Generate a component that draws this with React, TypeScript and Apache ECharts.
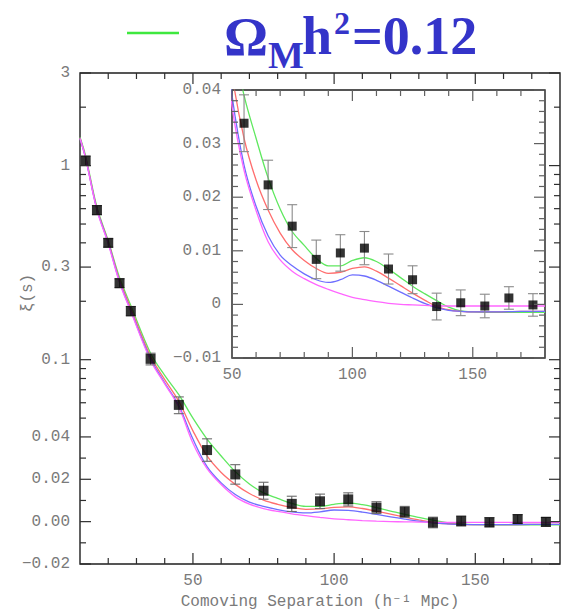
import { useEffect, useRef } from 'react';
import * as echarts from 'echarts';

// ---- measured data (SDSS LRG redshift-space correlation function) ----
const sepBins = [12, 16, 20, 24, 28, 35, 45, 55, 65, 75, 85, 95, 105, 115, 125, 135, 145, 155, 165, 175];
const xiValues = [1.06, 0.59, 0.40, 0.248, 0.178, 0.101, 0.0585, 0.0338, 0.0223, 0.0146, 0.0084, 0.0096, 0.0105, 0.0066, 0.0046, -0.0004, 0.0003, -0.0003, 0.0012, -0.0001];
const xiErrors = [0.06, 0.032, 0.02, 0.013, 0.01, 0.007, 0.0058, 0.0053, 0.0046, 0.004, 0.0036, 0.0034, 0.0031, 0.0028, 0.0026, 0.0025, 0.0024, 0.0022, 0.0021, 0.0021];

// ---- model curves ----
const modelSep = [10, 12, 16, 20, 24, 28, 35, 40, 45, 50, 55, 60, 65, 70, 75, 80, 85, 90, 95, 100, 105, 110, 115, 120, 125, 130, 135, 140, 145, 150, 160, 170, 180];
const xiModel012 = [1.40, 1.12, 0.61, 0.41, 0.265, 0.19, 0.108, 0.083, 0.066, 0.050, 0.039, 0.031, 0.0236, 0.0178, 0.0136, 0.0110, 0.0086, 0.0072, 0.0072, 0.0082, 0.0087, 0.0080, 0.0066, 0.0050, 0.0034, 0.0020, 0.0007, -0.0005, -0.0012, -0.0014, -0.0015, -0.0015, -0.0015];
const xiModel013 = [1.39, 1.10, 0.60, 0.405, 0.258, 0.184, 0.104, 0.079, 0.061, 0.043, 0.031, 0.0232, 0.0176, 0.0133, 0.0102, 0.0082, 0.0067, 0.0058, 0.0060, 0.0067, 0.0070, 0.0062, 0.0049, 0.0035, 0.0021, 0.0008, -0.0004, -0.0010, -0.0013, -0.0014, -0.0014, -0.0013, -0.0013];
const xiModel014 = [1.38, 1.09, 0.595, 0.40, 0.253, 0.179, 0.101, 0.076, 0.058, 0.039, 0.026, 0.0183, 0.0128, 0.0092, 0.0072, 0.0057, 0.0046, 0.0041, 0.0046, 0.0055, 0.0053, 0.0045, 0.0034, 0.0023, 0.0012, 0.0002, -0.0006, -0.0011, -0.0013, -0.0014, -0.0014, -0.0013, -0.0013];
const xiModelNoBaryon = [1.38, 1.09, 0.59, 0.395, 0.25, 0.177, 0.099, 0.075, 0.057, 0.037, 0.025, 0.0175, 0.0117, 0.0083, 0.0062, 0.0048, 0.0037, 0.0028, 0.0020, 0.0013, 0.0009, 0.0005, 0.0002, 0.0000, -0.0001, -0.0002, -0.0003, -0.0003, -0.0003, -0.0003, -0.0003, -0.0003, -0.0003];

// ---- axis ticks / labels ----
const mainXMajor = [50, 100, 150];
const mainXMinor = [20, 30, 40, 60, 70, 80, 90, 110, 120, 130, 140, 160, 170];
const mainYTickValues = [3, 1, 0.3, 0.1, 0.04, 0.02, 0, -0.02];
const mainYTickLabels = ['3', '1', '0.3', '0.1', '0.04', '0.02', '0.00', '\u22120.02'];
const mainYMinor = [2, 0.9, 0.8, 0.7, 0.6, 0.5, 0.4, 0.2, 0.09, 0.08, 0.07, 0.06, 0.05, 0.03, 0.01, -0.01];
const insetXMajor = [50, 100, 150];
const insetXMinor = [60, 70, 80, 90, 110, 120, 130, 140, 160, 170];
const insetYTickValues = [-0.01, 0, 0.01, 0.02, 0.03, 0.04];
const insetYTickLabels = ['\u22120.01', '0', '0.01', '0.02', '0.03', '0.04'];
const insetYMinor = [-0.008, -0.006, -0.004, -0.002, 0.002, 0.004, 0.006, 0.008, 0.012, 0.014, 0.016, 0.018, 0.022, 0.024, 0.026, 0.028, 0.032, 0.034, 0.036, 0.038];

// main panel y scale: linear below 0.04, logarithmic above
const Y_FLOOR = -0.02;
const Y_BREAK = 0.04;
const LIN_K = 2117;
const LOG_K = 194;
const T = (v: number) =>
  v <= Y_BREAK ? (v - Y_FLOOR) * LIN_K : (Y_BREAK - Y_FLOOR) * LIN_K + LOG_K * Math.log10(v / Y_BREAK);
const Y_TOP = 3;

const LABEL_FONT = '"Liberation Mono", "DejaVu Sans Mono", monospace';
const LABEL_COLOR = '#7a7a7a';
const FRAME = '#1e1e1e';

const MAIN = { left: 80, top: 73, width: 480, height: 491 };
const INSET = { left: 232, top: 90, width: 313, height: 268 };

const MAIN_XR = [10, 180];
const MAIN_YR = [0, T(Y_TOP)];
const INSET_XR = [50, 180];
const INSET_YR = [-0.01, 0.04];

const curves = [
  { data: xiModel012, color: '#5fe85f' },
  { data: xiModel013, color: '#ff6e6e' },
  { data: xiModel014, color: '#6e6eff' },
  { data: xiModelNoBaryon, color: '#ff66ff' },
];

function lookup(vals: number[], labels: string[], tf: (v: number) => number) {
  return (v: number) => {
    const i = vals.findIndex((t) => Math.abs(tf(t) - v) < 1e-7);
    return i >= 0 ? labels[i] : '';
  };
}

function valueAxis(o: any) {
  const a: any = {
    type: 'value',
    gridIndex: o.grid,
    position: o.position,
    min: o.min,
    max: o.max,
    z: o.z,
    splitLine: { show: false },
    axisLine: { show: false },
    axisTick: { show: false },
    axisLabel: {
      show: true,
      customValues: o.labels,
      formatter: o.formatter,
      margin: o.margin,
      fontFamily: LABEL_FONT,
      fontSize: 16,
      color: LABEL_COLOR,
    },
  };
  if (o.name) Object.assign(a, o.name);
  return a;
}

function errorBars(color: string, half: number) {
  return (params: any, api: any) => {
    const x = api.value(0);
    const lo = api.coord([x, api.value(1)]);
    const hi = api.coord([x, api.value(2)]);
    return {
      type: 'group',
      children: [
        { type: 'line', shape: { x1: lo[0], y1: lo[1], x2: hi[0], y2: hi[1] }, style: { stroke: color, lineWidth: 1.1 } },
        { type: 'line', shape: { x1: lo[0] - half, y1: lo[1], x2: lo[0] + half, y2: lo[1] }, style: { stroke: color, lineWidth: 1.1 } },
        { type: 'line', shape: { x1: hi[0] - half, y1: hi[1], x2: hi[0] + half, y2: hi[1] }, style: { stroke: color, lineWidth: 1.1 } },
      ],
    };
  };
}

function baseGraphic() {
  const titleColor = '#3434c9';
  const serif = '"Liberation Serif", "Times New Roman", serif';
  return [
    { type: 'line', z: 20, shape: { x1: 127, y1: 33, x2: 179, y2: 33 }, style: { stroke: '#3ee83e', lineWidth: 2.5 } },
    { type: 'text', z: 20, x: 224, y: 36, style: { text: '\u03A9', font: `bold 55px ${serif}`, fill: titleColor, textAlign: 'left', textVerticalAlign: 'middle' } },
    { type: 'text', z: 20, x: 268, y: 55, style: { text: 'M', font: `bold 38px ${serif}`, fill: titleColor, textAlign: 'left', textVerticalAlign: 'middle' } },
    { type: 'text', z: 20, x: 302, y: 36, style: { text: 'h', font: `bold 54px ${serif}`, fill: titleColor, textAlign: 'left', textVerticalAlign: 'middle' } },
    { type: 'text', z: 20, x: 334, y: 23, style: { text: '2', font: `bold 32px ${serif}`, fill: titleColor, textAlign: 'left', textVerticalAlign: 'middle' } },
    { type: 'text', z: 20, x: 352, y: 36, style: { text: '=0.12', font: `bold 54px ${serif}`, fill: titleColor, textAlign: 'left', textVerticalAlign: 'middle' } },
    { type: 'text', z: 20, x: 28, y: 293, rotation: Math.PI / 2,
      style: { text: '\u03BE(s)', font: `16px ${LABEL_FONT}`, fill: LABEL_COLOR, textAlign: 'center', textVerticalAlign: 'middle' } },
  ];
}

function buildOption() {
  const mainFmt = lookup(mainYTickValues, mainYTickLabels, T);
  const insetFmt = lookup(insetYTickValues, insetYTickLabels, (v) => v);
  const mainYMajorT = mainYTickValues.map(T);

  const xAxes = [
    valueAxis({ grid: 0, position: 'bottom', min: MAIN_XR[0], max: MAIN_XR[1], z: 1, labels: mainXMajor,
      formatter: (v: number) => String(v), margin: 9,
      name: { name: 'Comoving Separation (h\u207B\u00B9 Mpc)', nameLocation: 'middle', nameGap: 30,
        nameTextStyle: { fontFamily: LABEL_FONT, fontSize: 16, color: LABEL_COLOR } } }),
    valueAxis({ grid: 1, position: 'bottom', min: INSET_XR[0], max: INSET_XR[1], z: 11, labels: insetXMajor,
      formatter: (v: number) => String(v), margin: 9 }),
  ];
  const yAxes = [
    valueAxis({ grid: 0, position: 'left', min: MAIN_YR[0], max: MAIN_YR[1], z: 1, labels: mainYMajorT, formatter: mainFmt, margin: 10 }),
    valueAxis({ grid: 1, position: 'left', min: INSET_YR[0], max: INSET_YR[1], z: 11, labels: insetYTickValues, formatter: insetFmt, margin: 11 }),
  ];

  const gridBase = { containLabel: false, outerBoundsMode: 'none', show: true, borderColor: FRAME, borderWidth: 1.4 };
  const grids = [
    { ...gridBase, ...MAIN, backgroundColor: 'rgba(0,0,0,0)', z: 0 },
    { ...gridBase, ...INSET, backgroundColor: '#ffffff', z: 10 },
  ];

  const series: any[] = [];
  curves.forEach((c) => {
    series.push({
      type: 'line', xAxisIndex: 0, yAxisIndex: 0, z: 2, smooth: 0.35, symbol: 'none', showSymbol: false,
      lineStyle: { color: c.color, width: 1.3 }, itemStyle: { color: c.color },
      data: modelSep.map((s, i) => [s, T(c.data[i])]),
    });
  });
  series.push({
    type: 'custom', xAxisIndex: 0, yAxisIndex: 0, z: 3,
    renderItem: errorBars('#6a6a6a', 5),
    data: sepBins.map((s, i) => [s, T(xiValues[i] - xiErrors[i]), T(xiValues[i] + xiErrors[i])]),
  });
  series.push({
    type: 'scatter', xAxisIndex: 0, yAxisIndex: 0, z: 4, symbol: 'rect', symbolSize: 10,
    itemStyle: { color: '#000000' },
    data: sepBins.map((s, i) => [s, T(xiValues[i])]),
  });

  const insetIdx = sepBins.map((s, i) => i).filter((i) => sepBins[i] >= 50);
  curves.forEach((c) => {
    series.push({
      type: 'line', xAxisIndex: 1, yAxisIndex: 1, z: 12, smooth: 0.35, symbol: 'none', showSymbol: false, clip: true,
      lineStyle: { color: c.color, width: 1.3 }, itemStyle: { color: c.color },
      data: modelSep.map((s, i) => [s, c.data[i]]),
    });
  });
  series.push({
    type: 'custom', xAxisIndex: 1, yAxisIndex: 1, z: 13, clip: true,
    renderItem: errorBars('#8a8a8a', 5),
    data: insetIdx.map((i) => [sepBins[i], xiValues[i] - xiErrors[i], xiValues[i] + xiErrors[i]]),
  });
  series.push({
    type: 'scatter', xAxisIndex: 1, yAxisIndex: 1, z: 14, symbol: 'rect', symbolSize: 9,
    itemStyle: { color: '#000000' },
    data: insetIdx.map((i) => [sepBins[i], xiValues[i]]),
  });

  return {
    animation: false,
    backgroundColor: '#ffffff',
    grid: grids,
    xAxis: xAxes,
    yAxis: yAxes,
    series,
    graphic: baseGraphic(),
  };
}

// inward tick marks on all four frame sides, positioned with the chart's own axis scales
function tickGraphics(chart: any) {
  const out: any[] = [];
  const add = (grid: number, xr: number[], yr: number[], xMajor: number[], xMinor: number[], yMajor: number[], yMinor: number[], color: string, z: number) => {
    const px = (x: number, y: number) => chart.convertToPixel({ gridIndex: grid }, [x, y]) as number[];
    const line = (x1: number, y1: number, x2: number, y2: number) =>
      out.push({ type: 'line', z, silent: true, shape: { x1, y1, x2, y2 }, style: { stroke: color, lineWidth: 1.2 } });
    const xt = (v: number, len: number) => {
      const b = px(v, yr[0]);
      const t = px(v, yr[1]);
      line(b[0], b[1], b[0], b[1] - len);
      line(t[0], t[1], t[0], t[1] + len);
    };
    const yt = (v: number, len: number) => {
      const l = px(xr[0], v);
      const r = px(xr[1], v);
      line(l[0], l[1], l[0] + len, l[1]);
      line(r[0], r[1], r[0] - len, r[1]);
    };
    xMajor.forEach((v) => xt(v, 11));
    xMinor.forEach((v) => xt(v, 6));
    yMajor.forEach((v) => yt(v, 11));
    yMinor.forEach((v) => yt(v, 6));
  };
  add(0, MAIN_XR, MAIN_YR, mainXMajor, mainXMinor, mainYTickValues.map(T), mainYMinor.map(T), '#2e2e2e', 19);
  add(1, INSET_XR, INSET_YR, insetXMajor, insetXMinor, insetYTickValues, insetYMinor, '#606060', 30);
  return out;
}

export default function App() {
  const ref = useRef<HTMLDivElement>(null);
  useEffect(() => {
    if (!ref.current) return;
    const chart = echarts.init(ref.current, null, { renderer: 'svg' });
    chart.setOption(buildOption() as any);
    try {
      const ticks = tickGraphics(chart).filter((g) =>
        [g.shape.x1, g.shape.y1, g.shape.x2, g.shape.y2].every((n: number) => Number.isFinite(n)));
      chart.setOption({ graphic: [...baseGraphic(), ...ticks] } as any);
    } catch (e) {
      // keep the chart without ticks if conversion fails
    }
    return () => chart.dispose();
  }, []);
  return (
    <div
      ref={ref}
      style={{ position: 'absolute', left: 0, top: 0, width: 562, height: 616, background: '#fff' }}
    />
  );
}
